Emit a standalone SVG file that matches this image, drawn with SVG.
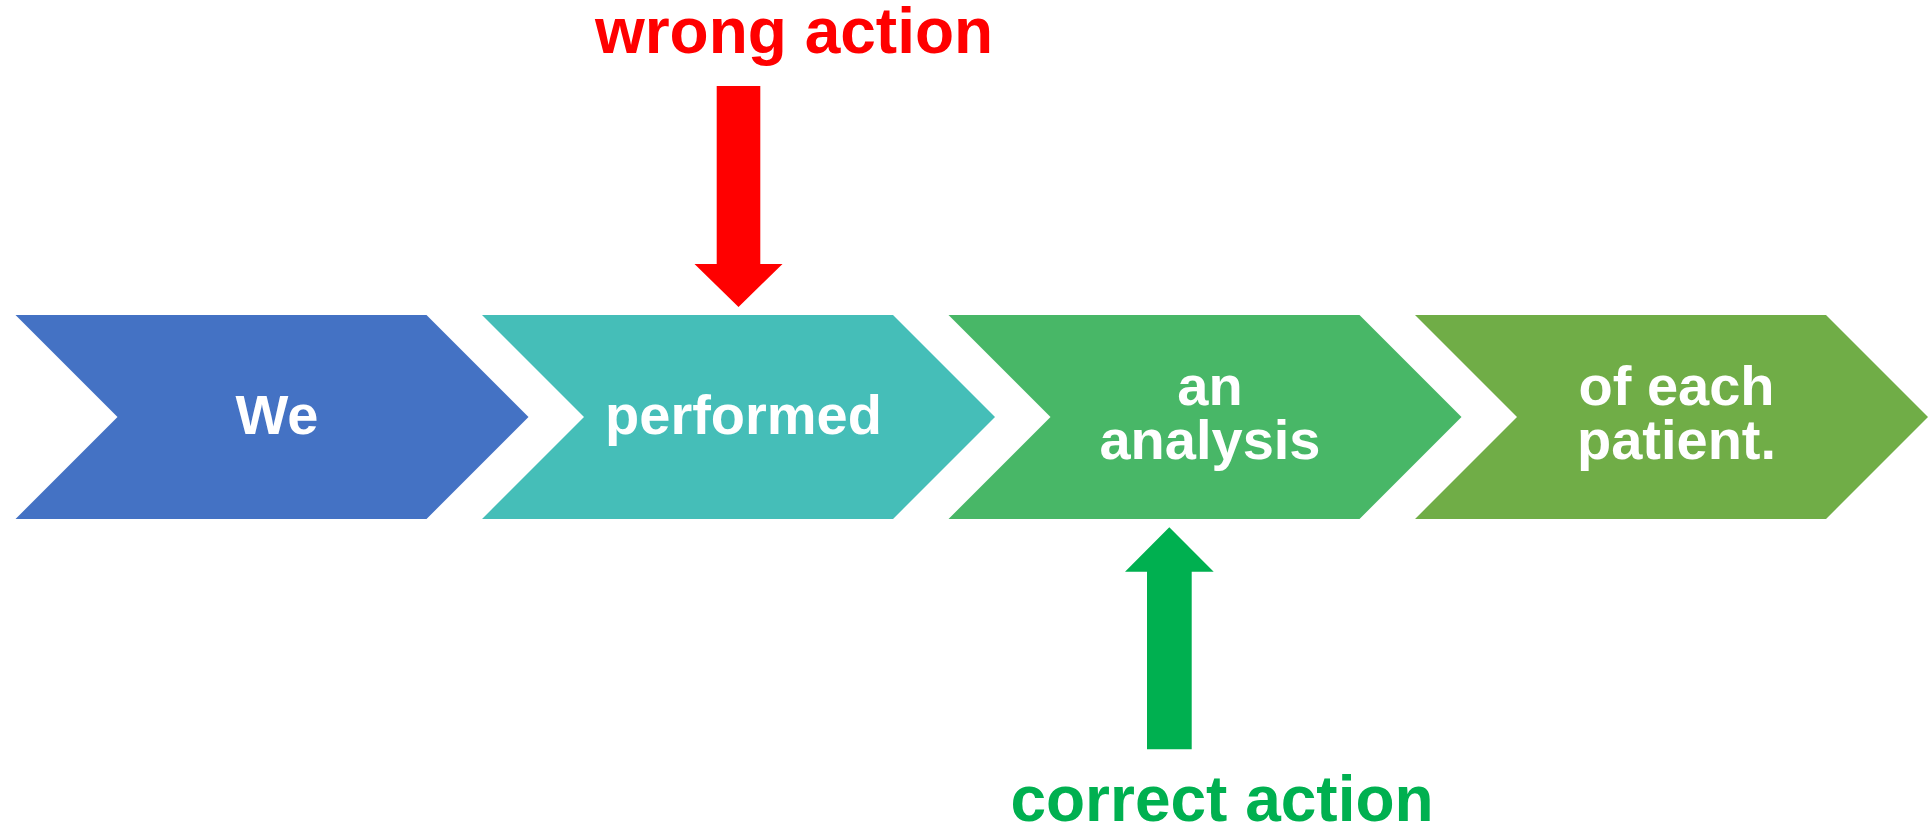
<svg xmlns="http://www.w3.org/2000/svg" width="1929" height="827" viewBox="0 0 1929 827">
  <style>
    .step-label { font-family: "Liberation Sans", Arial, sans-serif; font-weight: bold; font-size: 56px; fill: #FFFFFF; text-anchor: middle; }
    .callout { font-family: "Liberation Sans", Arial, sans-serif; font-weight: bold; font-size: 64px; text-anchor: middle; }
  </style>
  <defs>
    <!-- one chevron, 513 wide x 204 tall, 45-degree notch and point -->
    <path id="chevron" d="M0,0 L411,0 L513,102 L411,204 L0,204 L102,102 Z"/>
  </defs>
  <rect width="1929" height="827" fill="#FFFFFF"/>

  <g id="step-we" transform="translate(15.5,315)">
    <use href="#chevron" fill="#4472C4"/>
    <text class="step-label" x="261.5" y="119">We</text>
  </g>

  <g id="step-performed" transform="translate(482,315)">
    <use href="#chevron" fill="#45BEB8"/>
    <text class="step-label" x="261.5" y="118.5">performed</text>
  </g>

  <g id="step-analysis" transform="translate(948.5,315)">
    <use href="#chevron" fill="#48B767"/>
    <text class="step-label" x="261.5" y="90">an</text>
    <text class="step-label" x="261.5" y="143.5">analysis</text>
  </g>

  <g id="step-patient" transform="translate(1415,315)">
    <use href="#chevron" fill="#70AD47"/>
    <text class="step-label" x="261.5" y="90">of each</text>
    <text class="step-label" x="261.5" y="143.5">patient.</text>
  </g>

  <g id="connectors">
    <!-- wrong action: block arrow pointing down onto "performed" -->
    <polygon points="716.7,86 760.3,86 760.3,264 782.5,264 738.5,307 694.5,264 716.7,264" fill="#FF0000"/>
    <!-- correct action: block arrow pointing up into "an analysis" -->
    <polygon points="1147,749.3 1191.7,749.3 1191.7,571.7 1213.7,571.7 1169.3,527.3 1125,571.7 1147,571.7" fill="#00B050"/>
  </g>

  <g id="label-wrong">
    <text class="callout" x="794" y="53" fill="#FF0000">wrong action</text>
  </g>
  <g id="label-correct">
    <text class="callout" x="1222" y="820.5" fill="#00B050">correct action</text>
  </g>
</svg>
